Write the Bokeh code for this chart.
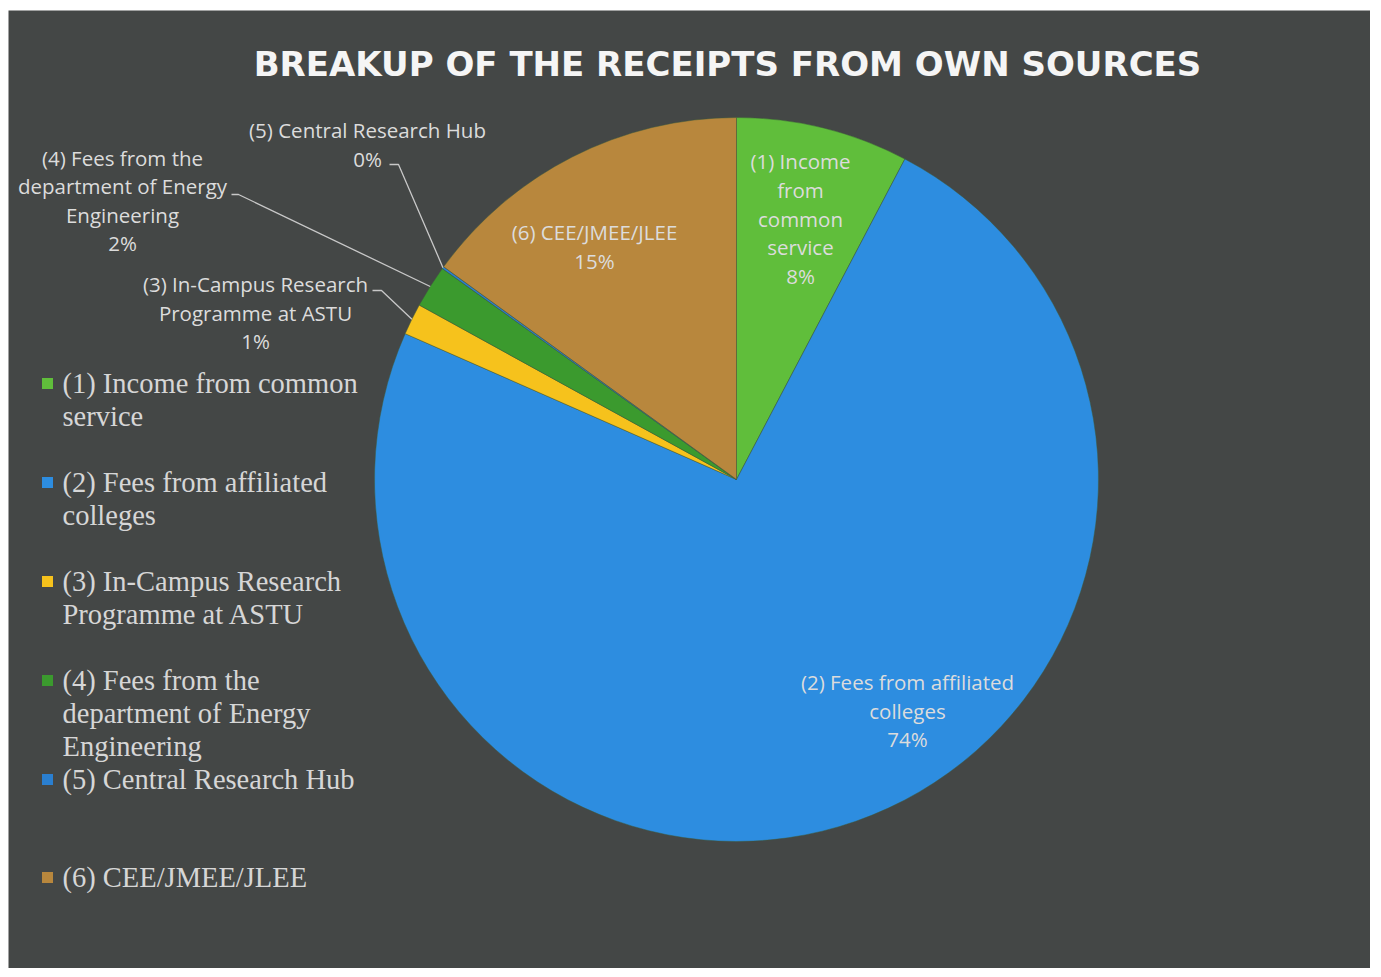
import math
from bokeh.plotting import figure
from bokeh.models import Range1d
from bokeh.embed import file_html
from bokeh.resources import INLINE
from bokeh.core.properties import value

# ---------------- data ----------------
title_text = "BREAKUP OF THE RECEIPTS FROM OWN SOURCES"
categories = [
    "(1) Income from common service",
    "(2) Fees from affiliated colleges",
    "(3) In-Campus Research Programme at ASTU",
    "(4) Fees from the department of Energy Engineering",
    "(5) Central Research Hub",
    "(6) CEE/JMEE/JLEE",
]
values = [7.7, 73.9, 1.4, 1.9, 0.1, 15.0]
pct_labels = ["8%", "74%", "1%", "2%", "0%", "15%"]
colors = ["#60be3b", "#2d8de0", "#f6c21c", "#3b9a2e", "#2a7fd0", "#b8873d"]
label_lines = [
    ["(1) Income", "from", "common", "service"],
    ["(2) Fees from affiliated", "colleges"],
    ["(3) In-Campus Research", "Programme at ASTU"],
    ["(4) Fees from the", "department of Energy", "Engineering"],
    ["(5) Central Research Hub"],
    ["(6) CEE/JMEE/JLEE"],
]
legend_lines = [
    ["(1) Income from common", "service"],
    ["(2) Fees from affiliated", "colleges"],
    ["(3) In-Campus Research", "Programme at ASTU"],
    ["(4) Fees from the", "department of Energy", "Engineering"],
    ["(5) Central Research Hub"],
    ["(6) CEE/JMEE/JLEE"],
]

# ---------------- layout (page pixels) ----------------
W, H = 1370, 968
LEFT, TOP = 8, 10
CX, CY, R = 736, 479, 362
label_pos = [(800, 218), (907, 710), (255, 312), (122, 200), (367, 144), (594, 246)]
label_line_h = 28.6
leader_start = {2: (372, 290), 3: (231, 194), 4: (389, 164)}
leader_knee = {2: (381, 290), 3: (238, 194), 4: (398, 164)}
legend_tops = [383, 482, 581, 680, 779, 877]
legend_line_h = 33
legend_sq_x = 47
legend_text_x = 62
BG = "#444746"

p = figure(width=W, height=H, output_backend="svg", toolbar_location=None,
           x_range=Range1d(LEFT, W), y_range=Range1d(-H, -TOP),
           x_axis_location=None, y_axis_location=None,
           min_border_left=LEFT, min_border_top=TOP, min_border_right=0, min_border_bottom=0)
p.grid.visible = False
p.outline_line_color = None
p.background_fill_color = BG
p.border_fill_color = "white"

# pie
total = sum(values)
cum = 0.0
starts, ends, mids = [], [], []
for v in values:
    a0 = math.pi / 2 - 2 * math.pi * cum / total
    cum += v
    a1 = math.pi / 2 - 2 * math.pi * cum / total
    starts.append(a0)
    ends.append(a1)
    mids.append((a0 + a1) / 2)

p.wedge(x=[CX] * len(values), y=[-CY] * len(values), radius=R,
        start_angle=starts, end_angle=ends, direction="clock",
        fill_color=colors, line_color="#3d5a3a", line_width=0.8, line_alpha=0.6)

# leader lines for small slices
for i in leader_start:
    ex = CX + R * math.cos(mids[i])
    ey = -CY + R * math.sin(mids[i])
    sx, sy = leader_start[i]
    kx, ky = leader_knee[i]
    p.line(x=[sx, kx, ex], y=[-sy, -ky, ey], line_color="#c8c8c8", line_width=1.3)

# data labels
font_lbl = value("Open Sans")
for i, lines in enumerate(label_lines):
    allv = lines + [pct_labels[i]]
    n = len(allv)
    cx, cy = label_pos[i]
    ys = [-(cy + (k - (n - 1) / 2) * label_line_h) for k in range(n)]
    p.text(x=[cx] * n, y=ys, text=allv, text_align="center", text_baseline="middle",
           text_font=font_lbl, text_font_size="20.5px", text_color="#dcdcdc")

# title
p.text(x=[727], y=[-63], text=[title_text], text_align="center", text_baseline="middle",
       text_font=value("DejaVu Sans"), text_font_style="bold", text_font_size="34px",
       text_color="#f5f5f5")

# legend
for i, lines in enumerate(legend_lines):
    top = legend_tops[i]
    p.scatter(x=[legend_sq_x], y=[-top], marker="square", size=11,
              fill_color=colors[i], line_color=None)
    ys = [-(top + k * legend_line_h) for k in range(len(lines))]
    p.text(x=[legend_text_x] * len(lines), y=ys, text=lines, text_align="left",
           text_baseline="middle", text_font=value("Liberation Serif"),
           text_font_size="28.5px", text_color="#d6d6d6")

open("out.html", "w").write(file_html(p, INLINE))
